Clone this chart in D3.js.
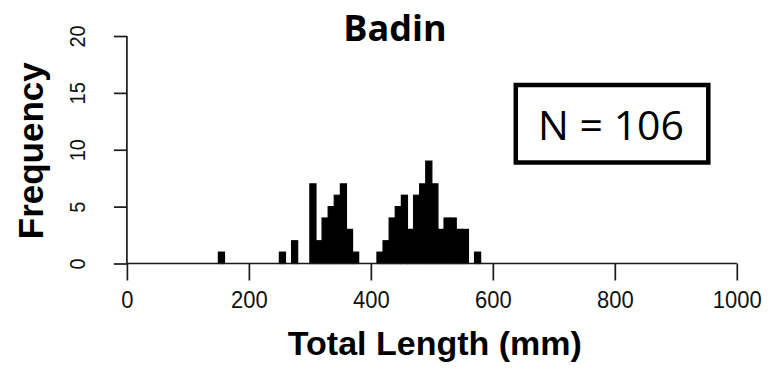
<!DOCTYPE html>
<html>
<head>
<meta charset="utf-8">
<script src="https://cdn.jsdelivr.net/npm/d3@7"></script>
<style>
  html, body { margin: 0; padding: 0; background: #fff; }
  svg { display: block; }
</style>
</head>
<body>
<svg id="chart" width="772" height="376"></svg>
<script>
// Length-frequency histogram, 10 mm bins (lower edge of each bin, in mm)
const binStart = [150, 250, 270, 300, 310, 320, 330, 340, 350, 360, 370,
                  410, 420, 430, 440, 450, 460, 470, 480, 490, 500, 510,
                  520, 530, 540, 550, 570];
const binCount = [1, 1, 2, 7, 2, 4, 5, 6, 7, 3, 1,
                  1, 2, 4, 5, 6, 3, 6, 7, 9, 7, 3,
                  4, 4, 3, 3, 1];
const binWidth = 10;
const xTicks = [0, 200, 400, 600, 800, 1000];
const yTicks = [0, 5, 10, 15, 20];
const title = "Badin";
const sampleLabel = "N = 106";
const xLabel = "Total Length (mm)";
const yLabel = "Frequency";

const svg = d3.select("#chart");
const x = d3.scaleLinear().domain([0, 1000]).range([126.9, 736.8]);
const y = d3.scaleLinear().domain([0, 20]).range([263.5, 36]);

const axisColor = "#1a1a1a";
const tickFont = "'Liberation Sans', Arial, sans-serif";

// bars
svg.append("g")
  .selectAll("rect")
  .data(binStart.map((s, i) => ({ s, c: binCount[i] })))
  .join("rect")
  .attr("x", d => x(d.s))
  .attr("width", d => x(d.s + binWidth) - x(d.s))
  .attr("y", d => y(d.c))
  .attr("height", d => y(0) - y(d.c))
  .attr("fill", "#000")
  .attr("stroke", "#000")
  .attr("stroke-width", 1.2);

// x axis
const xAxis = d3.axisBottom(x).tickValues(xTicks).tickSize(17).tickPadding(0)
  .tickFormat(d3.format("d"));
const gx = svg.append("g").attr("transform", `translate(0,${y(0)})`).call(xAxis);
gx.select(".domain").attr("stroke", axisColor).attr("stroke-width", 1.7)
  .attr("d", `M${x(0)},0H${x(1000)}`);
gx.selectAll(".tick line").attr("stroke", axisColor).attr("stroke-width", 1.7);
gx.selectAll(".tick text")
  .attr("y", null).attr("dy", null)
  .attr("transform", "translate(0,44) scale(1,1.12)")
  .attr("fill", "#111")
  .style("font-family", tickFont).style("font-size", "22px");

// y axis, labels rotated parallel to the axis
const yAxis = d3.axisLeft(y).tickValues(yTicks).tickSize(13).tickPadding(0);
const gy = svg.append("g").attr("transform", `translate(${x(0)},0)`).call(yAxis);
gy.select(".domain").attr("stroke", axisColor).attr("stroke-width", 1.7)
  .attr("d", `M0,${y(20)}V${y(0)}`);
gy.selectAll(".tick line").attr("stroke", axisColor).attr("stroke-width", 1.7);
gy.selectAll(".tick text")
  .attr("x", null).attr("dy", null)
  .attr("text-anchor", "middle")
  .attr("transform", "translate(-42,0) rotate(-90) scale(1,1.12)")
  .attr("fill", "#111")
  .style("font-family", tickFont).style("font-size", "20px");

// axis titles
svg.append("text")
  .attr("x", (x(0) + x(1000)) / 2 + 3).attr("y", 355)
  .attr("text-anchor", "middle")
  .style("font-family", tickFont).style("font-weight", "bold").style("font-size", "34px")
  .attr("fill", "#000")
  .text(xLabel);

svg.append("text")
  .attr("transform", `translate(43,${(y(0) + y(20)) / 2 + 1}) rotate(-90)`)
  .attr("text-anchor", "middle")
  .style("font-family", tickFont).style("font-weight", "bold").style("font-size", "35px")
  .attr("fill", "#000")
  .text(yLabel);

// chart title
svg.append("text")
  .attr("x", 395).attr("y", 41)
  .attr("text-anchor", "middle")
  .style("font-family", "'Open Sans', sans-serif").style("font-weight", "bold").style("font-size", "36px")
  .attr("fill", "#000")
  .text(title);

// sample size box
svg.append("rect")
  .attr("x", 515.8).attr("y", 85)
  .attr("width", 708.3 - 515.8).attr("height", 162.5 - 85)
  .attr("fill", "#fff").attr("stroke", "#000").attr("stroke-width", 4.5);
svg.append("text")
  .attr("x", 611).attr("y", 140)
  .attr("text-anchor", "middle")
  .style("font-family", "'Open Sans', sans-serif").style("font-size", "41px")
  .attr("fill", "#000")
  .text(sampleLabel);
</script>
</body>
</html>
